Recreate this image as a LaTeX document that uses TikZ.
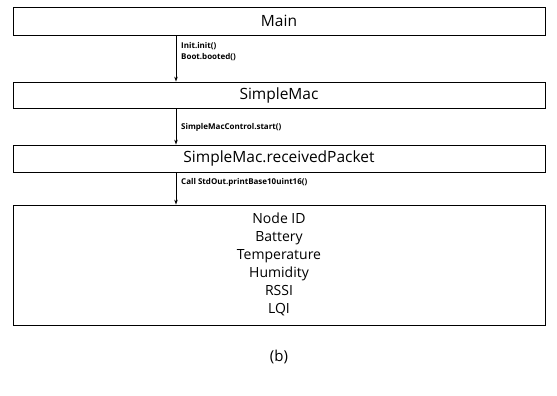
\documentclass[tikz,border=0pt]{standalone}
\usepackage{fontspec}
\setmainfont{Open Sans}
\usetikzlibrary{arrows.meta}
\begin{document}
\begin{tikzpicture}[x=1pt,y=-1pt,
  box/.style={draw, line width=0.8pt, minimum width=532pt, inner sep=0pt, font=\fontsize{15.5}{18}\selectfont},
  arr/.style={line width=0.8pt, -{Stealth[length=5pt,width=3.5pt]}},
  lbl/.style={anchor=west, inner sep=0pt, font=\bfseries\fontsize{8}{11.5}\selectfont, align=left}]
\useasboundingbox (0,0) rectangle (557,396);
\node[box, minimum height=28pt] (main) at (279,21) {Main};
\node[box, minimum height=26pt] (sm) at (279,95) {SimpleMac};
\node[box, minimum height=27pt] (rp) at (279,158.5) {SimpleMac.receivedPacket};
\node[box, minimum height=120pt] (data) at (279,265) {};
\node[font=\fontsize{14}{18}\selectfont, align=center] (items) at (279,264) {Node ID\\Battery\\Temperature\\Humidity\\RSSI\\LQI};
\node[font=\fontsize{15}{18}\selectfont] (cap) at (279,357) {(b)};
\coordinate (ax) at (176,0);
\draw[arr] (main.south -| ax) -- (sm.north -| ax);
\draw[arr] (sm.south -| ax) -- (rp.north -| ax);
\draw[arr] (rp.south -| ax) -- (data.north -| ax);
\node[lbl] (l1) at (181,51.5) {Init.init()\\Boot.booted()};
\node[lbl] (l2) at (181,127) {SimpleMacControl.start()};
\node[lbl] (l3) at (181,182) {Call StdOut.printBase10uint16()};
\end{tikzpicture}
\end{document}
